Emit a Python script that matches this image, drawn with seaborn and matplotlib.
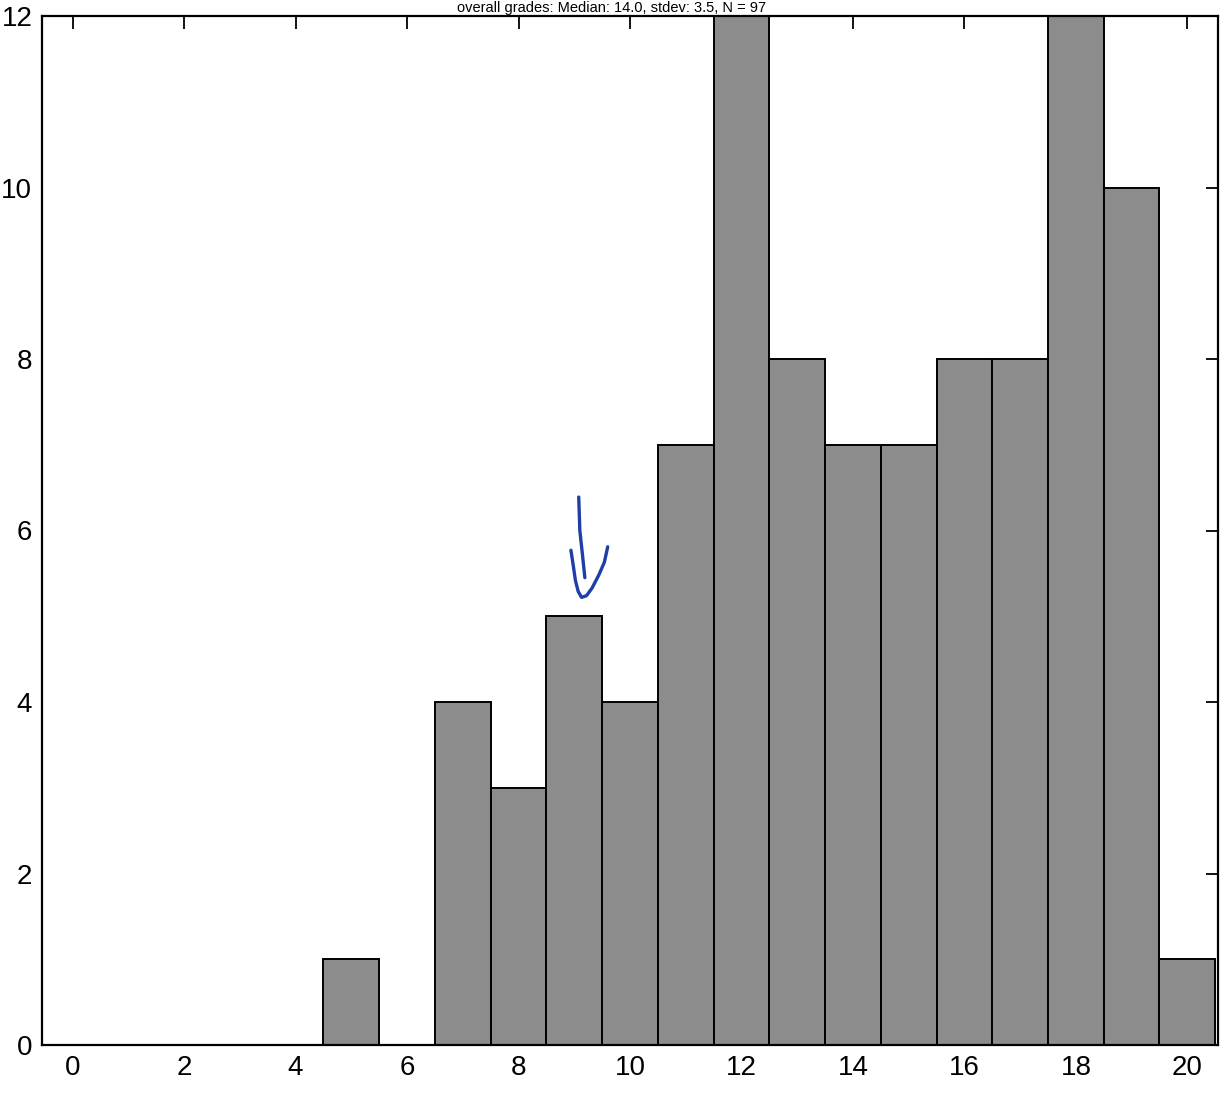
import numpy as np
import pandas as pd
import matplotlib
matplotlib.use("Agg")
import matplotlib.pyplot as plt
import seaborn as sns

# Grade histogram data
grades = [5, 7, 8, 9, 10, 11, 12, 13, 14, 15, 16, 17, 18, 19, 20]
counts = [1, 4, 3, 5, 4, 7, 12, 8, 7, 7, 8, 8, 12, 10, 1]
x_ticks = [0, 2, 4, 6, 8, 10, 12, 14, 16, 18, 20]
y_ticks = [0, 2, 4, 6, 8, 10, 12]
title = "overall grades: Median: 14.0, stdev: 3.5, N = 97"

sns.set_style("white")
plt.rcParams["font.family"] = ["Liberation Sans", "DejaVu Sans"]

df = pd.DataFrame({"grade": grades, "count": counts})

fig = plt.figure(figsize=(12.24, 10.93), dpi=100)
ax = fig.add_axes([42 / 1224, 1 - 1045 / 1093, (1218 - 42) / 1224, (1045 - 16) / 1093])

sns.histplot(data=df, x="grade", weights="count", discrete=True, ax=ax,
             color="#8c8c8c", edgecolor="black", linewidth=1.4, alpha=1.0)

ax.set_xlim(-0.55, 20.55)
ax.set_ylim(0, 12)
ax.set_xticks(x_ticks)
ax.set_yticks(y_ticks)
ax.set_xlabel("")
ax.set_ylabel("")
ax.tick_params(direction="in", length=9, width=1.3, top=True, right=True,
               labelsize=20, pad=7, colors="black")
for s in ax.spines.values():
    s.set_visible(True)
    s.set_linewidth(1.6)
    s.set_color("black")

# hand-drawn arrow pointing at the 9-point bar
ink = "#1f3fa8"
ax.plot([9.08, 9.10, 9.15, 9.19], [6.39, 6.0, 5.7, 5.45], color=ink, lw=2.4,
        solid_capstyle="round", clip_on=False)
ax.plot([8.94, 8.98, 9.02, 9.07, 9.13, 9.22, 9.32, 9.44, 9.54, 9.60],
        [5.77, 5.60, 5.42, 5.29, 5.22, 5.24, 5.33, 5.48, 5.63, 5.81],
        color=ink, lw=2.4, solid_capstyle="round", clip_on=False)

fig.text(0.5, 1 - 8 / 1093, title, ha="center", va="center", fontsize=10.5,
         color="black")

fig.savefig("out.png", dpi=100)
